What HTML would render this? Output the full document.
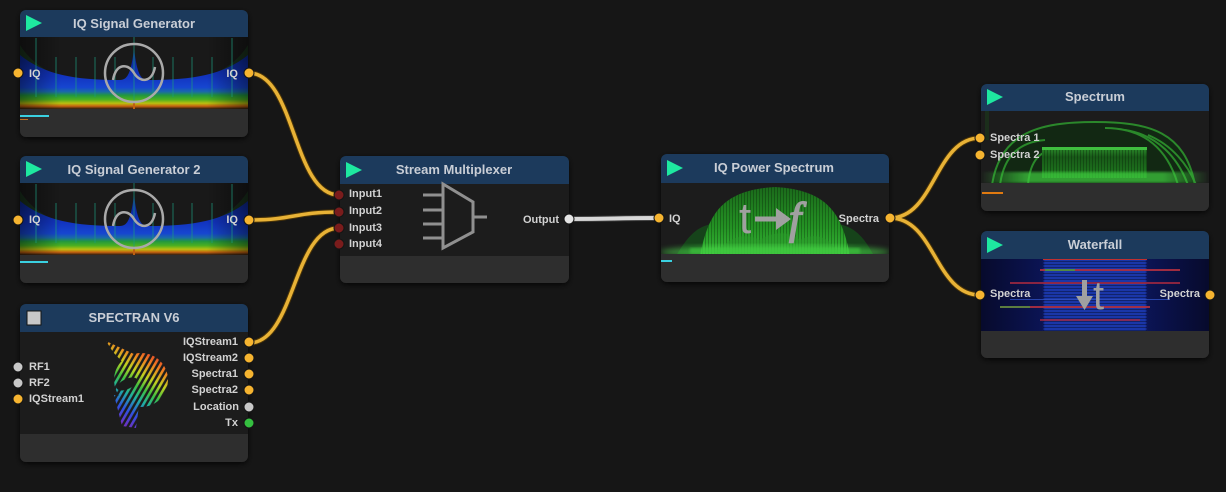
<!DOCTYPE html>
<html><head><meta charset="utf-8"><style>
html,body{margin:0;padding:0;background:#161616;width:1226px;height:492px;overflow:hidden}
svg{display:block}
text{font-family:"Liberation Sans",Arial,sans-serif;}
.h{font-size:13px;font-weight:bold;fill:#c9ced6;text-anchor:middle}
.l{font-size:11px;font-weight:bold;fill:#d2d2d2}
.r{text-anchor:end}
</style></head><body>
<svg width="1226" height="492" viewBox="0 0 1226 492" xmlns="http://www.w3.org/2000/svg">
<defs>
<filter id="sh" x="-10%" y="-10%" width="120%" height="130%"><feDropShadow dx="0" dy="2" stdDeviation="3" flood-color="#000" flood-opacity="0.75"/></filter>
<filter id="blur1"><feGaussianBlur stdDeviation="1.2"/></filter>
<filter id="blur3"><feGaussianBlur stdDeviation="3"/></filter>
<linearGradient id="gg" gradientUnits="userSpaceOnUse" x1="0" y1="0" x2="0" y2="72">
<stop offset="0.17" stop-color="#0a2280"/>
<stop offset="0.55" stop-color="#1234c0"/>
<stop offset="0.70" stop-color="#1646d0"/>
<stop offset="0.76" stop-color="#1a6aa8"/>
<stop offset="0.81" stop-color="#22983e"/>
<stop offset="0.87" stop-color="#4cb020"/>
<stop offset="0.92" stop-color="#b8c010"/>
<stop offset="0.96" stop-color="#c86410"/>
<stop offset="1" stop-color="#2a1c10"/>
</linearGradient>
<linearGradient id="edgeDark" x1="0" y1="0" x2="1" y2="0">
<stop offset="0" stop-color="#000" stop-opacity="0.45"/>
<stop offset="0.18" stop-color="#000" stop-opacity="0"/>
<stop offset="0.82" stop-color="#000" stop-opacity="0"/>
<stop offset="1" stop-color="#000" stop-opacity="0.45"/>
</linearGradient>
<linearGradient id="psG" x1="0" y1="0" x2="0" y2="1">
<stop offset="0" stop-color="#1b6a1b"/>
<stop offset="0.6" stop-color="#249424"/>
<stop offset="1" stop-color="#36b836"/>
</linearGradient>
<linearGradient id="plat" x1="0" y1="0" x2="0" y2="1">
<stop offset="0" stop-color="#2a8a2a"/>
<stop offset="0.3" stop-color="#185a18"/>
<stop offset="1" stop-color="#1f7a1f"/>
</linearGradient>
<linearGradient id="hband" x1="0" y1="0" x2="1" y2="0">
<stop offset="0" stop-color="#40d040" stop-opacity="0"/>
<stop offset="0.2" stop-color="#40d040" stop-opacity="0.7"/>
<stop offset="0.8" stop-color="#40d040" stop-opacity="0.7"/>
<stop offset="1" stop-color="#40d040" stop-opacity="0"/>
</linearGradient>
<linearGradient id="wfbg" x1="0" y1="0" x2="1" y2="0">
<stop offset="0" stop-color="#070a2c"/>
<stop offset="0.27" stop-color="#0b1454"/>
<stop offset="0.28" stop-color="#1a36a8"/>
<stop offset="0.72" stop-color="#1a36a8"/>
<stop offset="0.73" stop-color="#0b1454"/>
<stop offset="1" stop-color="#070a2c"/>
</linearGradient>
<pattern id="vstripe" patternUnits="userSpaceOnUse" width="3" height="10">
<rect width="1" height="10" fill="#000" opacity="0.25"/>
</pattern>
<pattern id="hline" patternUnits="userSpaceOnUse" width="10" height="3">
<rect width="10" height="1" fill="#000" opacity="0.35"/>
</pattern>
<linearGradient id="rainbow" gradientUnits="userSpaceOnUse" x1="118" y1="422" x2="160" y2="352">
<stop offset="0" stop-color="#7030c0"/>
<stop offset="0.18" stop-color="#3050e0"/>
<stop offset="0.36" stop-color="#20b0a0"/>
<stop offset="0.5" stop-color="#40c040"/>
<stop offset="0.65" stop-color="#c0d020"/>
<stop offset="0.82" stop-color="#f08020"/>
<stop offset="1" stop-color="#e03030"/>
</linearGradient>
<pattern id="stripes" patternUnits="userSpaceOnUse" width="5" height="5" patternTransform="rotate(30)">
<rect x="0" y="0" width="2.6" height="5" fill="#fff"/>
</pattern>
<mask id="stripeMask"><rect x="95" y="335" width="90" height="100" fill="url(#stripes)"/></mask>
<clipPath id="cGen"><rect x="0" y="0" width="228" height="72"/></clipPath>
<clipPath id="cPS"><rect x="661" y="183" width="228" height="71"/></clipPath>
<clipPath id="cSp"><rect x="981" y="111" width="228" height="72"/></clipPath>
<clipPath id="cWf"><rect x="981" y="259" width="228" height="72"/></clipPath>
<clipPath id="n1"><rect x="20" y="10" width="228" height="127" rx="6"/></clipPath>
<clipPath id="n2"><rect x="20" y="156" width="228" height="127" rx="6"/></clipPath>
<clipPath id="n3"><rect x="20" y="304" width="228" height="158" rx="6"/></clipPath>
<clipPath id="n4"><rect x="340" y="156" width="229" height="127" rx="6"/></clipPath>
<clipPath id="n5"><rect x="661" y="154" width="228" height="128" rx="6"/></clipPath>
<clipPath id="n6"><rect x="981" y="84" width="228" height="127" rx="6"/></clipPath>
<clipPath id="n7"><rect x="981" y="231" width="228" height="127" rx="6"/></clipPath>
<symbol id="gen" viewBox="0 0 228 72">
<g clip-path="url(#cGen)">
<rect width="228" height="72" fill="#191919"/>
<path d="M0,8 C20,40 60,50 114,50 C168,50 208,40 228,8 L228,72 L0,72Z" fill="#1c4a22" opacity=".5"/>
<path d="M0,18 C25,38 55,43 100,43 C108,43 111,35 114,12 C117,35 120,43 128,43 C173,43 203,38 228,18 L228,72 L0,72Z" fill="url(#gg)"/>
<rect width="228" height="72" fill="url(#edgeDark)"/>
<g stroke="#1e9c80" stroke-width="1.3" opacity="0.55">
<line x1="16" y1="1" x2="16" y2="60"/>
<line x1="36" y1="20" x2="36" y2="60"/>
<line x1="56" y1="20" x2="56" y2="60"/>
<line x1="75" y1="20" x2="75" y2="60"/>
<line x1="95" y1="20" x2="95" y2="60"/>
<line x1="133" y1="20" x2="133" y2="60"/>
<line x1="153" y1="20" x2="153" y2="60"/>
<line x1="172" y1="20" x2="172" y2="60"/>
<line x1="192" y1="20" x2="192" y2="60"/>
<line x1="212" y1="1" x2="212" y2="60"/>
<line x1="114" y1="0" x2="114" y2="72"/>
</g>
<line x1="114" y1="64" x2="114" y2="72" stroke="#c06010" stroke-width="2"/>
<circle cx="114" cy="36" r="29" fill="none" stroke="#a9a9a9" stroke-width="2.5"/>
<path d="M93,43 C96,26 108,26 114,36 C120,46 132,46 135,30" fill="none" stroke="#a9a9a9" stroke-width="2.5"/>
</g>
</symbol>
</defs>

<rect width="1226" height="492" fill="#161616"/>

<g filter="url(#sh)" fill="#1b1b1b">
<rect x="20" y="10" width="228" height="127" rx="6"/>
<rect x="20" y="156" width="228" height="127" rx="6"/>
<rect x="20" y="304" width="228" height="158" rx="6"/>
<rect x="340" y="156" width="229" height="127" rx="6"/>
<rect x="661" y="154" width="228" height="128" rx="6"/>
<rect x="981" y="84" width="228" height="127" rx="6"/>
<rect x="981" y="231" width="228" height="127" rx="6"/>
</g>

<!-- Node 1 -->
<g clip-path="url(#n1)">
<rect x="20" y="10" width="228" height="27" fill="#1c3a5c"/>
<use href="#gen" x="20" y="37" width="228" height="72"/>
<rect x="20" y="109" width="228" height="28" fill="#2e2e2e"/>
<rect x="20" y="115" width="29" height="2" fill="#3ad0e0"/>
<rect x="20" y="119" width="8" height="1" fill="#c07020"/>
</g>
<polygon points="26,15 42,23 26,31" fill="#1ee8a0"/>
<text class="h" x="134" y="28">IQ Signal Generator</text>
<text class="l" x="29" y="77">IQ</text>
<text class="l r" x="238" y="77">IQ</text>

<!-- Node 2 -->
<g clip-path="url(#n2)">
<rect x="20" y="156" width="228" height="27" fill="#1c3a5c"/>
<use href="#gen" x="20" y="183" width="228" height="72"/>
<rect x="20" y="255" width="228" height="28" fill="#2e2e2e"/>
<rect x="20" y="261" width="28" height="2" fill="#3ad0e0"/>
</g>
<polygon points="26,161 42,169 26,177" fill="#1ee8a0"/>
<text class="h" x="134" y="174">IQ Signal Generator 2</text>
<text class="l" x="29" y="223">IQ</text>
<text class="l r" x="238" y="223">IQ</text>

<!-- Node 3 -->
<g clip-path="url(#n3)">
<rect x="20" y="304" width="228" height="28" fill="#1c3a5c"/>
<rect x="20" y="434" width="228" height="28" fill="#2e2e2e"/>
</g>
<rect x="27" y="311" width="14" height="14" fill="#c8c8c8" stroke="#151515" stroke-width="1"/>
<text class="h" x="134" y="322">SPECTRAN V6</text>
<g mask="url(#stripeMask)">
<g fill="url(#rainbow)">
<circle cx="141" cy="380" r="27"/>
<polygon points="106,341 136,355 128,368 113,352"/>
<polygon points="114,395 140,398 136,428 122,426"/>
</g>
</g>
<ellipse cx="127" cy="384" rx="11" ry="5" transform="rotate(-25 127 384)" fill="#1b1b1b"/>
<text class="l" x="29" y="370">RF1</text>
<text class="l" x="29" y="386">RF2</text>
<text class="l" x="29" y="402">IQStream1</text>
<text class="l r" x="238" y="345">IQStream1</text>
<text class="l r" x="238" y="361">IQStream2</text>
<text class="l r" x="238" y="377">Spectra1</text>
<text class="l r" x="238" y="393">Spectra2</text>
<text class="l r" x="239" y="410">Location</text>
<text class="l r" x="238" y="426">Tx</text>

<!-- Node 4 -->
<g clip-path="url(#n4)">
<rect x="340" y="156" width="229" height="28" fill="#1c3a5c"/>
<rect x="340" y="256" width="229" height="27" fill="#2e2e2e"/>
</g>
<polygon points="346,162 362,170 346,178" fill="#1ee8a0"/>
<text class="h" x="454" y="174">Stream Multiplexer</text>
<g stroke="#909090" stroke-width="3" fill="none">
<line x1="423" y1="195" x2="443" y2="195"/>
<line x1="423" y1="210" x2="443" y2="210"/>
<line x1="423" y1="224" x2="443" y2="224"/>
<line x1="423" y1="238" x2="443" y2="238"/>
<polygon points="443,184 473,202 473,232 443,248"/>
<line x1="473" y1="217" x2="487" y2="217"/>
</g>
<text class="l" x="349" y="197">Input1</text>
<text class="l" x="349" y="214">Input2</text>
<text class="l" x="349" y="231">Input3</text>
<text class="l" x="349" y="247">Input4</text>
<text class="l r" x="559" y="223">Output</text>

<!-- Node 5 -->
<g clip-path="url(#n5)">
<rect x="661" y="154" width="228" height="29" fill="#1c3a5c"/>
<rect x="661" y="254" width="228" height="28" fill="#2e2e2e"/>
<rect x="661" y="260" width="11" height="2" fill="#3ad0e0"/>
</g>
<g clip-path="url(#cPS)">
<path d="M676,256 C690,232 700,226 712,224 C740,219 810,219 838,224 C850,226 862,232 874,256 Z" fill="#14501a" opacity=".75"/>
<path d="M700,256 C708,214 722,190 775,187 C828,190 842,214 850,256 Z" fill="url(#psG)"/>
<path d="M700,256 C708,214 722,190 775,187 C828,190 842,214 850,256 Z" fill="url(#vstripe)"/>
<path d="M712,256 C730,236 745,232 760,240 C770,232 790,230 800,240 C815,232 830,236 840,256Z" fill="#2a9a2a" opacity=".5"/>
<ellipse cx="775" cy="252" rx="115" ry="7" fill="#4ee04e" opacity=".55" filter="url(#blur3)"/>
<rect x="690" y="248" width="170" height="6" fill="#3cc83c" opacity=".6" filter="url(#blur1)"/>
</g>
<polygon points="667,160 683,168 667,176" fill="#1ee8a0"/>
<text class="h" x="774" y="172">IQ Power Spectrum</text>
<text x="739" y="233" style="font-size:44px;fill:#a0a0a0;font-family:'Liberation Sans',Arial,sans-serif">t</text>
<rect x="755" y="216.5" width="24" height="5" fill="#a0a0a0"/>
<polygon points="776,208 791,219 776,230" fill="#a0a0a0"/>
<text x="789" y="233" style="font-size:44px;fill:#a0a0a0;font-style:italic;font-family:'Liberation Serif',serif" stroke="#a0a0a0" stroke-width="1.5">f</text>
<text class="l" x="669" y="222">IQ</text>
<text class="l r" x="879" y="222">Spectra</text>

<!-- Node 6 -->
<g clip-path="url(#n6)">
<rect x="981" y="84" width="228" height="27" fill="#1c3a5c"/>
<rect x="981" y="183" width="228" height="28" fill="#2e2e2e"/>
<rect x="982" y="192" width="21" height="2" fill="#e07a10"/>
</g>
<g clip-path="url(#cSp)">
<path d="M992,185 C1000,132 1040,122 1095,122 C1150,122 1185,132 1195,185Z" fill="#0e2e10" opacity=".7"/>
<g fill="none" stroke="#2f9a2f" stroke-width="2" opacity=".85">
<path d="M992,185 C1000,132 1040,122 1095,122 C1150,122 1185,132 1195,185"/>
<path d="M1105,128 C1145,128 1168,150 1178,185"/>
<path d="M1125,130 C1158,135 1178,158 1188,185"/>
<path d="M1148,135 C1172,145 1188,165 1196,185"/>
<path d="M1000,185 C1004,155 1020,142 1045,140"/>
<path d="M1028,185 C1030,160 1040,150 1060,148"/>
</g>
<rect x="1042" y="148" width="105" height="30" fill="url(#plat)"/>
<rect x="1042" y="148" width="105" height="30" fill="url(#vstripe)"/>
<rect x="1042" y="147" width="105" height="3" fill="#3fbf3f"/>
<rect x="981" y="172" width="228" height="11" fill="url(#hband)" filter="url(#blur1)"/>
<rect x="985" y="110" width="4" height="30" fill="#1a3a1a" opacity=".6"/>
</g>
<polygon points="987,89 1003,97 987,105" fill="#1ee8a0"/>
<text class="h" x="1095" y="101">Spectrum</text>
<text class="l" x="990" y="141">Spectra 1</text>
<text class="l" x="990" y="158">Spectra 2</text>

<!-- Node 7 -->
<g clip-path="url(#n7)">
<rect x="981" y="231" width="228" height="28" fill="#1c3a5c"/>
<rect x="981" y="331" width="228" height="27" fill="#2e2e2e"/>
</g>
<g clip-path="url(#cWf)">
<rect x="981" y="259" width="228" height="72" fill="url(#wfbg)"/>
<rect x="1043" y="259" width="104" height="72" fill="url(#hline)"/>
<rect x="1043" y="259" width="104" height="1" fill="#c03030"/>
<rect x="1040" y="269" width="140" height="2" fill="#b03040" opacity=".9"/>
<rect x="1045" y="269" width="30" height="2" fill="#40a040" opacity=".8"/>
<rect x="1010" y="282" width="170" height="2" fill="#a02840" opacity=".85"/>
<rect x="1000" y="306" width="150" height="2" fill="#b03040" opacity=".9"/>
<rect x="1000" y="306" width="30" height="2" fill="#40a040" opacity=".7"/>
<rect x="1040" y="319" width="100" height="2" fill="#a02840" opacity=".8"/>
<rect x="1010" y="299" width="160" height="1" fill="#3050c0" opacity=".8"/>
</g>
<polygon points="987,237 1003,245 987,253" fill="#1ee8a0"/>
<text class="h" x="1095" y="249">Waterfall</text>
<rect x="1082" y="280" width="5" height="18" fill="#a0a0a0"/>
<polygon points="1076,296 1093,296 1084.5,310" fill="#a0a0a0"/>
<text x="1093" y="309" style="font-size:40px;fill:#a0a0a0;font-family:'Liberation Sans',Arial,sans-serif">t</text>
<text class="l" x="990" y="297">Spectra</text>
<text class="l r" x="1200" y="297">Spectra</text>

<!-- connectors -->
<g fill="none" stroke-linecap="round">
<g stroke="#4a3408" stroke-width="5.5">
<path d="M249,73 C295,73 293,195 339,195"/>
<path d="M249,220 C294,220 294,212 339,212"/>
<path d="M249,343 C295,343 293,228 339,228"/>
<path d="M890,218 C935,218 935,138 980,138"/>
<path d="M890,218 C935,218 935,295 980,295"/>
</g>
<g stroke="#e8b236" stroke-width="3.5">
<path d="M249,73 C295,73 293,195 339,195"/>
<path d="M249,220 C294,220 294,212 339,212"/>
<path d="M249,343 C295,343 293,228 339,228"/>
<path d="M890,218 C935,218 935,138 980,138"/>
<path d="M890,218 C935,218 935,295 980,295"/>
</g>
<path d="M569,219 C614,219 614,218 659,218" stroke="#3a3a3a" stroke-width="6"/>
<path d="M569,219 C614,219 614,218 659,218" stroke="#d8d8d8" stroke-width="4"/>
</g>

<!-- ports -->
<g stroke="#151515" stroke-width="1">
<g fill="#f6b430">
<circle cx="18" cy="73" r="5"/><circle cx="249" cy="73" r="5"/>
<circle cx="18" cy="220" r="5"/><circle cx="249" cy="220" r="5"/>
<circle cx="18" cy="399" r="5"/>
<circle cx="249" cy="342" r="5"/><circle cx="249" cy="358" r="5"/>
<circle cx="249" cy="374" r="5"/><circle cx="249" cy="390" r="5"/>
<circle cx="659" cy="218" r="5"/><circle cx="890" cy="218" r="5"/>
<circle cx="980" cy="138" r="5"/><circle cx="980" cy="155" r="5"/>
<circle cx="980" cy="295" r="5"/><circle cx="1210" cy="295" r="5"/>
</g>
<g fill="#c8c8c8">
<circle cx="18" cy="367" r="5"/><circle cx="18" cy="383" r="5"/>
<circle cx="249" cy="407" r="5"/>
</g>
<circle cx="249" cy="423" r="5" fill="#35c040"/>
<g fill="#7a1c1c">
<circle cx="339" cy="195" r="5"/><circle cx="339" cy="212" r="5"/>
<circle cx="339" cy="228" r="5"/><circle cx="339" cy="244" r="5"/>
</g>
<circle cx="569" cy="219" r="5" fill="#e4e4e4"/>
</g>
</svg>
</body></html>
